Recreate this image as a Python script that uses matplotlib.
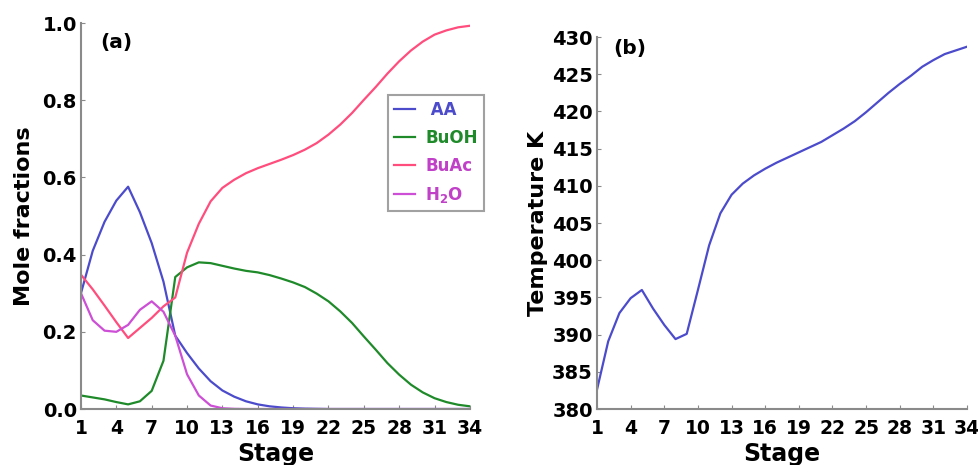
import matplotlib
matplotlib.use("Agg")
import matplotlib.pyplot as plt

stages = list(range(1, 35))
xticks = [1, 4, 7, 10, 13, 16, 19, 22, 25, 28, 31, 34]

aa = [0.30, 0.41, 0.485, 0.54, 0.576, 0.51, 0.43, 0.33, 0.19, 0.145, 0.105, 0.072,
      0.048, 0.032, 0.02, 0.012, 0.007, 0.004, 0.002, 0.001, 0.0005, 0, 0, 0,
      0, 0, 0, 0, 0, 0, 0, 0, 0, 0]
buoh = [0.035, 0.03, 0.025, 0.018, 0.012, 0.02, 0.047, 0.125, 0.342, 0.367, 0.38, 0.378,
        0.371, 0.364, 0.358, 0.354, 0.347, 0.338, 0.328, 0.316, 0.299, 0.279, 0.253, 0.223,
        0.188, 0.154, 0.119, 0.089, 0.063, 0.043, 0.028, 0.018, 0.011, 0.007]
buac = [0.348, 0.31, 0.268, 0.225, 0.184, 0.21, 0.236, 0.266, 0.289, 0.405, 0.48, 0.538,
        0.573, 0.594, 0.611, 0.624, 0.635, 0.646, 0.658, 0.672, 0.689, 0.711, 0.737, 0.767,
        0.801, 0.834, 0.869, 0.901, 0.929, 0.952, 0.97, 0.981, 0.989, 0.993]
h2o = [0.30, 0.23, 0.203, 0.2, 0.218, 0.257, 0.279, 0.252, 0.19, 0.09, 0.035, 0.009,
       0.002, 0.0005, 0, 0, 0, 0, 0, 0, 0, 0, 0, 0,
       0, 0, 0, 0, 0, 0, 0, 0, 0, 0]
temp = [382.6, 389.1, 392.9, 394.9, 396.0, 393.5, 391.3, 389.4, 390.1, 396.0, 402.0, 406.3,
        408.8, 410.3, 411.4, 412.3, 413.1, 413.8, 414.5, 415.2, 415.9, 416.8, 417.7, 418.7,
        419.9, 421.2, 422.5, 423.7, 424.8, 426.0, 426.9, 427.7, 428.2, 428.7]

c_aa = "#4b4bcc"
c_buoh = "#1f8a2a"
c_buac = "#ff4d7d"
c_h2o = "#cc4fd6"
spine_c = "#8a8a8a"

fig = plt.figure(figsize=(9.79, 4.65), dpi=100)
ax1 = fig.add_axes([0.0827, 0.1204, 0.3973, 0.830])
ax2 = fig.add_axes([0.6098, 0.1204, 0.378, 0.800])

def style(ax):
    for s in ["top", "right"]:
        ax.spines[s].set_visible(False)
    for s in ["left", "bottom"]:
        ax.spines[s].set_color(spine_c)
        ax.spines[s].set_linewidth(1.5)
    ax.tick_params(direction="in", length=3, color=spine_c, labelsize=14)
    ax.tick_params(axis="x", pad=7, labelsize=13.5)
    ax.tick_params(axis="y", pad=3)
    ax.set_xlim(1, 34)
    ax.set_xticks(xticks)
    for lab in ax.get_xticklabels() + ax.get_yticklabels():
        lab.set_fontweight("bold")

lw = 1.6
ax1.plot(stages, aa, color=c_aa, lw=lw, label=" AA")
ax1.plot(stages, buoh, color=c_buoh, lw=lw, label="BuOH")
ax1.plot(stages, buac, color=c_buac, lw=lw, label="BuAc")
ax1.plot(stages, h2o, color=c_h2o, lw=lw, label="H$_\\mathbf{2}$O")
ax1.set_ylim(0, 1.0)
ax1.set_yticks([0, 0.2, 0.4, 0.6, 0.8, 1.0])
ax1.set_yticklabels(["0.0", "0.2", "0.4", "0.6", "0.8", "1.0"])
style(ax1)
ax1.set_xlabel("Stage", fontsize=17, fontweight="bold", labelpad=3)
ax1.set_ylabel("Mole fractions", fontsize=16, fontweight="bold", labelpad=6)
ax1.text(0.049, 0.95, "(a)", transform=ax1.transAxes, fontsize=14.5, fontweight="bold",
         va="center", ha="left")
leg = ax1.legend(loc="upper left", bbox_to_anchor=(0.789, 0.813), frameon=True,
                 fancybox=False, edgecolor=spine_c, handlelength=1.3,
                 borderpad=0.35, labelspacing=0.6, handletextpad=0.6,
                 borderaxespad=0,
                 prop={"weight": "bold", "size": 12})
leg.get_frame().set_linewidth(1.5)
for txt, col in zip(leg.get_texts(), [c_aa, c_buoh, "#c040c8", "#c040c8"]):
    txt.set_color(col)

ax2.plot(stages, temp, color="#4b4bcc", lw=lw)
ax2.set_ylim(380, 430)
ax2.set_yticks(list(range(380, 431, 5)))
style(ax2)
ax2.set_xlabel("Stage", fontsize=17, fontweight="bold", labelpad=3)
ax2.set_ylabel("Temperature K", fontsize=16, fontweight="bold", labelpad=3)
ax2.text(0.043, 0.97, "(b)", transform=ax2.transAxes, fontsize=14.5, fontweight="bold",
         va="center", ha="left")

fig.savefig("out.png", dpi=100)
